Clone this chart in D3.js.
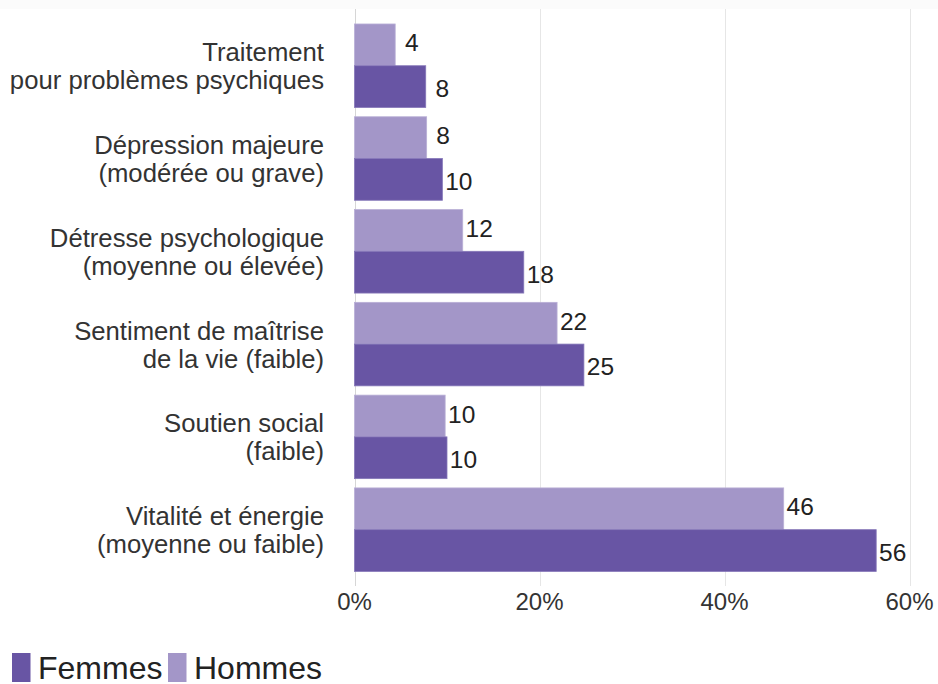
<!DOCTYPE html>
<html><head><meta charset="utf-8">
<script src="https://cdn.jsdelivr.net/npm/d3@7"></script>
<style>
html,body{margin:0;padding:0;background:#fff;}
text{font-family:"Liberation Sans",Arial,sans-serif;}
</style></head>
<body>
<svg id="chart" width="938" height="684"></svg>
<script>
const categories = [
  ["Traitement", "pour problèmes psychiques"],
  ["Dépression majeure", "(modérée ou grave)"],
  ["Détresse psychologique", "(moyenne ou élevée)"],
  ["Sentiment de maîtrise", "de la vie (faible)"],
  ["Soutien social", "(faible)"],
  ["Vitalité et énergie", "(moyenne ou faible)"]
];
const hommes = [4.4, 7.8, 11.7, 21.9, 9.8, 46.4];
const femmes = [7.7, 9.5, 18.3, 24.8, 10.0, 56.4];
const seriesNames = ["Femmes", "Hommes"];
const tickValues = [0, 20, 40, 60];

const colF = "#6855a4", colH = "#a396c8";
const svg = d3.select("#chart");

svg.append("rect").attr("x",0).attr("y",0).attr("width",938).attr("height",9).attr("fill","#fbfbfb");

const x = d3.scaleLinear().domain([0, 60]).range([354.5, 909.5]);
const y = d3.scaleBand().domain(d3.range(categories.length)).range([14.7, 580.7]).padding(0.1);

// grid
svg.append("g").selectAll("line").data(tickValues).join("line")
  .attr("x1", d => Math.round(x(d)) + 0.5).attr("x2", d => Math.round(x(d)) + 0.5)
  .attr("y1", 9).attr("y2", 586)
  .attr("stroke", d => d === 0 ? "#d6d6d6" : "#e6e6e6").attr("stroke-width", 1);

// tick labels
svg.append("g").selectAll("text").data(tickValues).join("text")
  .attr("x", d => x(d)).attr("y", 610)
  .attr("text-anchor", "middle").attr("font-size", 24).attr("fill", "#333")
  .text(d => d + "%");

const half = y.bandwidth() / 2;
const g = svg.append("g");
categories.forEach((c, i) => {
  const y0 = y(i);
  g.append("rect").attr("x", x(0)).attr("y", y0).attr("width", x(hommes[i]) - x(0)).attr("height", half)
    .attr("fill", colH).attr("stroke", "#b9afd6").attr("stroke-width", 0.8);
  g.append("rect").attr("x", x(0)).attr("y", y0 + half).attr("width", x(femmes[i]) - x(0)).attr("height", half)
    .attr("fill", colF).attr("stroke", "#8577b8").attr("stroke-width", 0.8);
  g.append("text").attr("x", x(hommes[i]) + 16.5).attr("y", y0 + half / 2 + 6.5)
    .attr("text-anchor", "middle").attr("font-size", 24.5).attr("fill", "#222")
    .text(d3.format(".0f")(hommes[i]));
  g.append("text").attr("x", x(femmes[i]) + 16.5).attr("y", y0 + half * 1.5 + 10.5)
    .attr("text-anchor", "middle").attr("font-size", 24.5).attr("fill", "#222")
    .text(d3.format(".0f")(femmes[i]));
  const cy = y0 + half;
  const t = g.append("text").attr("text-anchor", "end").attr("font-size", 25.7).attr("fill", "#333");
  t.append("tspan").attr("x", 324).attr("y", cy - 4.5).text(c[0]);
  t.append("tspan").attr("x", 324).attr("y", cy + 23.5).text(c[1]);
});

// legend
const leg = svg.append("g");
const legItems = [{name: seriesNames[0], color: colF, x: 12}, {name: seriesNames[1], color: colH, x: 168}];
legItems.forEach(d => {
  leg.append("rect").attr("x", d.x).attr("y", 653).attr("width", 18.5).attr("height", 29).attr("fill", d.color);
  leg.append("text").attr("x", d.x + 26).attr("y", 679).attr("font-size", 32).attr("fill", "#222").text(d.name);
});
</script>
</body></html>
